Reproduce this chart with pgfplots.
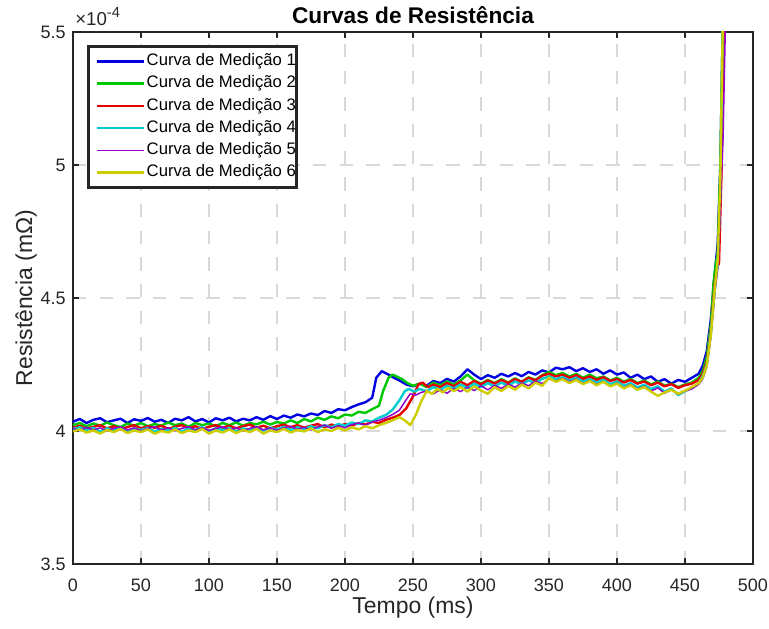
\documentclass[border=0pt]{standalone}
\usepackage{fontspec}
\setmainfont{Liberation Sans}
\usepackage{pgfplots}
\pgfplotsset{compat=1.18}
\definecolor{cA}{RGB}{0,0,225}
\definecolor{cB}{RGB}{0,200,0}
\definecolor{cC}{RGB}{230,0,0}
\definecolor{cD}{RGB}{0,205,205}
\definecolor{cE}{RGB}{145,0,205}
\definecolor{cF}{RGB}{205,205,0}
\definecolor{frame}{RGB}{38,38,38}
\begin{document}
\begin{tikzpicture}
\useasboundingbox (-54.75pt,-48.75pt) rectangle (522pt,423pt);
\begin{axis}[
  at={(0,0)}, anchor=south west,
  width=510pt, height=399pt, scale only axis,
  xmin=0, xmax=500, ymin=3.5, ymax=5.5,
  xtick={0,50,...,500}, ytick={3.5,4,4.5,5,5.5},
  /pgf/number format/assume math mode=true,
  grid=major,
  major grid style={draw=black!15, line width=2pt, dash pattern=on 10pt off 10pt},
  axis line style={draw=frame, line width=2pt},
  tick style={draw=frame, line width=2pt},
  tick align=inside, major tick length=4.5pt,
  ticklabel style={font=\fontsize{13.5}{13.5}\selectfont, text=frame},
  yticklabel style={xshift=-2pt},
  xticklabel style={yshift=-7.5pt},
  xlabel={Tempo (ms)},
  ylabel={Resistência (mΩ)},
  xlabel style={font=\fontsize{17.2}{17.2}\selectfont, text=frame, at={(axis description cs:0.5,-0.081)}, anchor=center},
  ylabel style={font=\fontsize{17.2}{17.2}\selectfont, text=frame, at={(axis description cs:-0.069,0.5)}, anchor=center},
  legend style={at={(axis description cs:0.0206,0.9756)}, anchor=north west,
    draw=frame, line width=2pt, fill=white, inner xsep=0.5pt, inner ysep=5.5pt,
    row sep=5.2pt, column sep=1pt,
    nodes={text height=9pt, text depth=2.5pt, inner sep=0pt, anchor=west},
    font=\fontsize{12.5}{12.5}\selectfont},
  legend cell align=left,
  legend image code/.code={\path (0pt,0pt); \draw[#1] (5pt,0pt) -- (40.5pt,0pt);},
]
\addplot[cA, line width=1.8pt, line join=round] coordinates {
(0,4.035)(5,4.045)(10,4.030)(15,4.042)(20,4.048)(25,4.033)(30,4.040)(35,4.046)(40,4.030)(45,4.044)
(50,4.038)(55,4.049)(60,4.035)(65,4.042)(70,4.030)(75,4.046)(80,4.040)(85,4.052)(90,4.036)(95,4.045)
(100,4.032)(105,4.048)(110,4.040)(115,4.050)(120,4.036)(125,4.046)(130,4.040)(135,4.052)(140,4.042)(145,4.056)
(150,4.045)(155,4.058)(160,4.050)(165,4.062)(170,4.055)(175,4.066)(180,4.060)(185,4.075)(190,4.068)(195,4.082)
(200,4.078)(205,4.090)(210,4.100)(215,4.108)(220,4.125)(223,4.200)(227,4.225)(232,4.212)(236,4.200)(240,4.190)
(245,4.175)(250,4.168)(255,4.178)(260,4.170)(265,4.188)(270,4.180)(275,4.196)(280,4.186)(285,4.205)(290,4.232)
(295,4.212)(300,4.195)(305,4.210)(310,4.200)(315,4.215)(320,4.205)(325,4.218)(330,4.206)(335,4.222)(340,4.212)
(345,4.228)(350,4.220)(355,4.238)(360,4.232)(365,4.240)(370,4.225)(375,4.236)(380,4.222)(385,4.232)(390,4.215)
(395,4.228)(400,4.212)(405,4.220)(410,4.200)(415,4.212)(420,4.195)(425,4.205)(430,4.185)(435,4.195)(440,4.178)
(445,4.192)(450,4.185)(455,4.200)(460,4.215)(463,4.245)(466,4.300)(469,4.420)(472,4.600)(474,4.700)(476,5.000)(478,5.600)
};
\addlegendentry{Curva de Medição 1}
\addplot[cB, line width=1.8pt, line join=round] coordinates {
(0,4.022)(5,4.030)(10,4.018)(15,4.028)(20,4.020)(25,4.032)(30,4.022)(35,4.015)(40,4.028)(45,4.020)
(50,4.030)(55,4.018)(60,4.026)(65,4.020)(70,4.032)(75,4.022)(80,4.028)(85,4.016)(90,4.030)(95,4.022)
(100,4.028)(105,4.018)(110,4.030)(115,4.022)(120,4.032)(125,4.020)(130,4.030)(135,4.025)(140,4.035)(145,4.024)
(150,4.034)(155,4.028)(160,4.040)(165,4.030)(170,4.045)(175,4.036)(180,4.050)(185,4.042)(190,4.055)(195,4.048)
(200,4.062)(205,4.058)(210,4.072)(215,4.068)(220,4.082)(225,4.095)(228,4.150)(232,4.200)(235,4.212)(238,4.205)
(242,4.195)(246,4.180)(250,4.170)(255,4.178)(260,4.165)(265,4.182)(270,4.172)(275,4.186)(280,4.175)(285,4.190)
(290,4.212)(295,4.190)(300,4.178)(305,4.192)(310,4.180)(315,4.195)(320,4.182)(325,4.198)(330,4.185)(335,4.202)
(340,4.192)(345,4.210)(350,4.222)(355,4.210)(360,4.218)(365,4.205)(370,4.215)(375,4.200)(380,4.212)(385,4.198)
(390,4.205)(395,4.190)(400,4.200)(405,4.185)(410,4.196)(415,4.180)(420,4.190)(425,4.175)(430,4.186)(435,4.170)
(440,4.178)(445,4.165)(450,4.175)(455,4.182)(460,4.200)(463,4.225)(466,4.280)(469,4.400)(471,4.560)(473,4.640)
(474,4.660)(476,5.000)(478,5.600)
};
\addlegendentry{Curva de Medição 2}
\addplot[cC, line width=1.8pt, line join=round] coordinates {
(0,4.012)(5,4.020)(10,4.008)(15,4.016)(20,4.022)(25,4.010)(30,4.018)(35,4.006)(40,4.015)(45,4.022)
(50,4.010)(55,4.018)(60,4.012)(65,4.020)(70,4.008)(75,4.016)(80,4.022)(85,4.010)(90,4.018)(95,4.008)
(100,4.016)(105,4.022)(110,4.012)(115,4.020)(120,4.010)(125,4.018)(130,4.024)(135,4.012)(140,4.020)(145,4.010)
(150,4.018)(155,4.024)(160,4.014)(165,4.022)(170,4.012)(175,4.020)(180,4.026)(185,4.014)(190,4.024)(195,4.016)
(200,4.026)(205,4.020)(210,4.030)(215,4.024)(220,4.035)(225,4.030)(230,4.042)(235,4.050)(240,4.060)(245,4.085)
(250,4.130)(254,4.175)(257,4.182)(261,4.165)(265,4.175)(270,4.165)(275,4.180)(280,4.168)(285,4.185)(290,4.172)
(295,4.188)(300,4.175)(305,4.190)(310,4.178)(315,4.192)(320,4.180)(325,4.195)(330,4.185)(335,4.200)(340,4.190)
(345,4.208)(350,4.215)(355,4.205)(360,4.212)(365,4.200)(370,4.210)(375,4.196)(380,4.205)(385,4.192)(390,4.202)
(395,4.188)(400,4.195)(405,4.182)(410,4.192)(415,4.178)(420,4.186)(425,4.172)(430,4.182)(435,4.168)(440,4.176)
(445,4.162)(450,4.172)(455,4.178)(460,4.192)(463,4.215)(466,4.260)(469,4.380)(472,4.560)(474,4.620)(475,4.630)
(477,5.000)(479,5.600)
};
\addlegendentry{Curva de Medição 3}
\addplot[cD, line width=1.8pt, line join=round] coordinates {
(0,4.008)(5,4.014)(10,4.004)(15,4.012)(20,3.998)(25,4.010)(30,4.004)(35,4.014)(40,4.000)(45,4.010)
(50,4.004)(55,4.012)(60,3.998)(65,4.008)(70,4.002)(75,4.012)(80,3.998)(85,4.010)(90,4.004)(95,4.014)
(100,4.000)(105,4.010)(110,4.004)(115,4.012)(120,3.998)(125,4.010)(130,4.004)(135,4.014)(140,4.002)(145,4.012)
(150,4.006)(155,4.016)(160,4.004)(165,4.014)(170,4.008)(175,4.018)(180,4.010)(185,4.022)(190,4.014)(195,4.026)
(200,4.020)(205,4.032)(210,4.026)(215,4.040)(220,4.036)(225,4.050)(230,4.060)(235,4.080)(240,4.115)(244,4.150)
(247,4.158)(251,4.148)(255,4.158)(260,4.150)(265,4.165)(270,4.155)(275,4.170)(280,4.160)(285,4.175)(290,4.162)
(295,4.178)(300,4.165)(305,4.180)(310,4.168)(315,4.182)(320,4.170)(325,4.186)(330,4.175)(335,4.190)(340,4.180)
(345,4.196)(350,4.205)(355,4.195)(360,4.202)(365,4.190)(370,4.200)(375,4.186)(380,4.195)(385,4.182)(390,4.192)
(395,4.176)(400,4.186)(405,4.170)(410,4.180)(415,4.164)(420,4.174)(425,4.158)(430,4.168)(435,4.148)(440,4.160)
(445,4.135)(450,4.150)(455,4.162)(460,4.180)(463,4.205)(466,4.250)(469,4.370)(472,4.540)(474,4.620)(476,4.900)(478,5.600)
};
\addlegendentry{Curva de Medição 4}
\addplot[cE, line width=1.1pt, line join=round] coordinates {
(0,4.010)(5,4.002)(10,4.014)(15,4.004)(20,4.012)(25,4.000)(30,4.010)(35,4.016)(40,4.004)(45,4.012)
(50,4.000)(55,4.010)(60,4.016)(65,4.004)(70,4.012)(75,4.000)(80,4.010)(85,4.016)(90,4.004)(95,4.012)
(100,4.002)(105,4.010)(110,4.016)(115,4.004)(120,4.012)(125,4.000)(130,4.010)(135,4.016)(140,4.004)(145,4.012)
(150,4.002)(155,4.012)(160,4.018)(165,4.006)(170,4.014)(175,4.004)(180,4.016)(185,4.022)(190,4.010)(195,4.020)
(200,4.012)(205,4.024)(210,4.030)(215,4.022)(220,4.034)(225,4.040)(230,4.050)(235,4.062)(240,4.078)(244,4.110)
(248,4.140)(252,4.135)(256,4.145)(260,4.150)(265,4.140)(270,4.155)(275,4.142)(280,4.160)(285,4.148)(290,4.165)
(295,4.152)(300,4.170)(305,4.155)(310,4.172)(315,4.160)(320,4.176)(325,4.165)(330,4.180)(335,4.170)(340,4.188)
(345,4.178)(350,4.196)(355,4.188)(360,4.198)(365,4.185)(370,4.195)(375,4.178)(380,4.190)(385,4.175)(390,4.186)
(395,4.168)(400,4.180)(405,4.162)(410,4.175)(415,4.158)(420,4.168)(425,4.150)(430,4.162)(435,4.142)(440,4.155)
(445,4.138)(450,4.150)(455,4.158)(460,4.175)(463,4.195)(466,4.240)(469,4.350)(472,4.520)(474,4.610)(476,4.850)
(478,5.100)(480,5.600)
};
\addlegendentry{Curva de Medição 5}
\addplot[cF, line width=1.8pt, line join=round] coordinates {
(0,3.998)(5,4.006)(10,3.994)(15,4.002)(20,3.990)(25,4.004)(30,3.996)(35,4.008)(40,3.992)(45,4.002)
(50,3.996)(55,4.006)(60,3.990)(65,4.000)(70,3.994)(75,4.006)(80,3.992)(85,4.002)(90,3.996)(95,4.008)
(100,3.990)(105,4.002)(110,3.994)(115,4.006)(120,3.992)(125,4.004)(130,3.996)(135,4.008)(140,3.990)(145,4.002)
(150,3.996)(155,4.008)(160,3.994)(165,4.004)(170,3.998)(175,4.010)(180,3.996)(185,4.006)(190,4.000)(195,4.012)
(200,4.002)(205,4.014)(210,4.006)(215,4.018)(220,4.010)(225,4.022)(230,4.030)(235,4.040)(240,4.052)(244,4.040)
(248,4.022)(252,4.060)(256,4.110)(260,4.150)(264,4.140)(268,4.158)(272,4.145)(276,4.162)(280,4.150)(285,4.165)
(290,4.148)(295,4.168)(300,4.152)(305,4.140)(310,4.165)(315,4.150)(320,4.170)(325,4.155)(330,4.175)(335,4.160)
(340,4.182)(345,4.170)(350,4.200)(355,4.185)(360,4.195)(365,4.180)(370,4.192)(375,4.176)(380,4.188)(385,4.172)
(390,4.185)(395,4.168)(400,4.178)(405,4.160)(410,4.172)(415,4.155)(420,4.165)(425,4.148)(430,4.132)(435,4.145)
(440,4.155)(445,4.140)(450,4.152)(455,4.165)(460,4.180)(463,4.200)(466,4.245)(469,4.360)(472,4.540)(474,4.640)
(476,4.950)(478,5.600)
};
\addlegendentry{Curva de Medição 6}
\end{axis}
\node[anchor=base, inner sep=0pt, font=\bfseries\fontsize{17}{17}\selectfont] at (255pt,405.5pt) {Curvas de Resistência};
\node[anchor=base west, inner sep=0pt, text=frame, font=\fontsize{14}{14}\selectfont] at (1.5pt,404pt) {×10\raisebox{6pt}{\fontsize{11}{11}\selectfont -4}};
\end{tikzpicture}
\end{document}
